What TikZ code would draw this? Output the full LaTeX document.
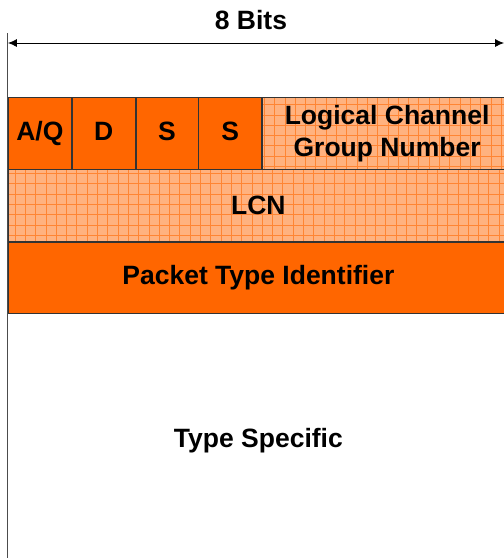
\documentclass[tikz,border=0pt]{standalone}
\usepackage{fontspec}
\setmainfont{Liberation Sans}
\usetikzlibrary{positioning,arrows.meta}

\definecolor{fieldorange}{HTML}{FF6600}
\definecolor{gridorange}{HTML}{FFB27F}

\tikzset{
    bitfont/.style={font=\bfseries\fontsize{26.5}{32}\selectfont},
    field/.style={draw=black!80, line width=0.8pt, fill=fieldorange, minimum height=71.5pt,
        inner sep=0pt, anchor=north west, align=center, bitfont},
    flagfield/.style={field, text height=19pt, text depth=5pt},
    gridfield/.style={field, fill=gridorange,
        path picture={\draw[fieldorange!80, line width=0.5pt] (path picture bounding box.south west)
            grid[step=10.3pt] (path picture bounding box.north east);}},
}

\begin{document}
\begin{tikzpicture}[x=1pt, y=1pt]
    \useasboundingbox (-8,97) rectangle (496,-461);

    % First octet
    \node[flagfield, minimum width=63pt] (aq) at (0,0) {A/Q};
    \node[flagfield, minimum width=63pt, right=0pt of aq] (d) {D};
    \node[flagfield, minimum width=62pt, right=0pt of d] (s1) {S};
    \node[flagfield, minimum width=63pt, right=0pt of s1] (s2) {S};
    \node[gridfield, minimum width=249pt, right=0pt of s2] (lcgn) {Logical Channel\\Group Number};

    % Second and third octet
    \node[gridfield, minimum width=500pt, below=0pt of aq.south west, anchor=north west] (lcn) {LCN};
    \node[field, minimum width=500pt, below=0pt of lcn] (pti) {Packet Type Identifier};

    % Rest of the packet
    \node[bitfont] (ts) at ([yshift=-127pt]pti.south) {Type Specific};

    % Width marker
    \draw[black!70, line width=1pt] (0,64) -- (0,-461);
    \coordinate (bitl) at (0,54);
    \coordinate (bitr) at (496,54);
    \draw[{Latex[length=9pt,width=8pt]}-{Latex[length=9pt,width=8pt]}, line width=0.8pt] (bitl) -- (bitr);
    \node[bitfont] (bits) at (243,77) {8 Bits};

\end{tikzpicture}
\end{document}
